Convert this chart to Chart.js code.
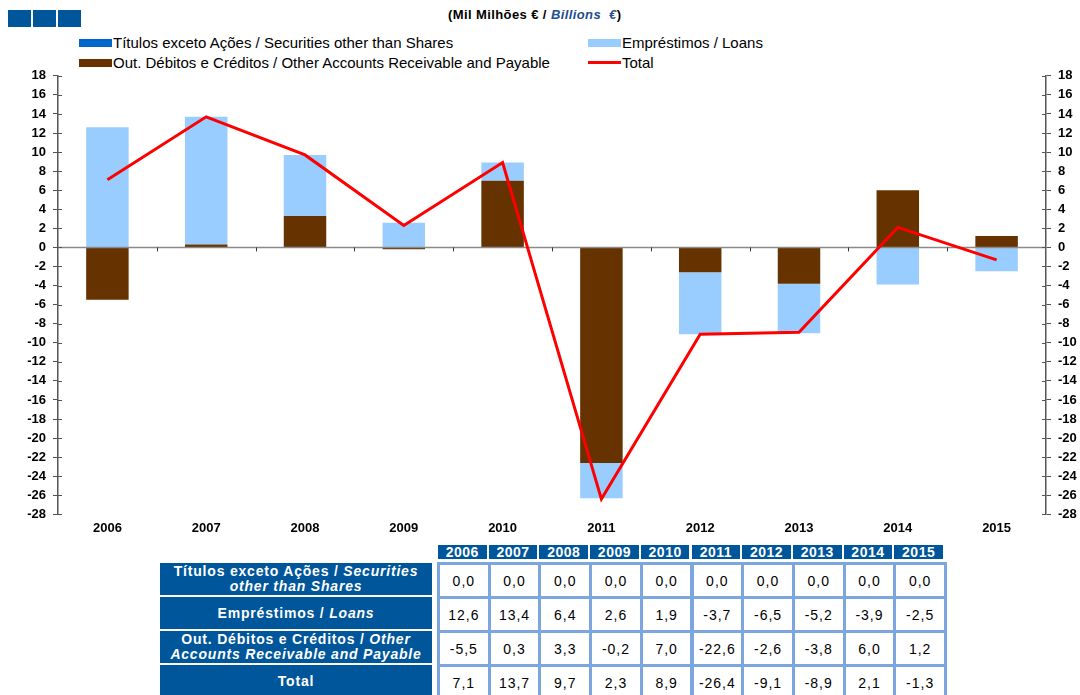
<!DOCTYPE html>
<html>
<head>
<meta charset="utf-8">
<script src="https://cdn.jsdelivr.net/npm/chart.js@4"></script>
<style>
  body { margin: 0; width: 1080px; height: 695px; background: #fff; font-family: "Liberation Sans", Arial, sans-serif; position: relative; overflow: hidden; }
  .quad { position: absolute; top: 10px; width: 23px; height: 17px; background: #00569a; }
  #titulo { position: absolute; top: 7px; left: 448px; font-size: 13px; font-weight: bold; color: #000; letter-spacing: 0.4px; }
  #titulo i { color: #1f4e8c; }
  .leg { position: absolute; font-size: 15px; color: #000; white-space: nowrap; }
  .leg span.sw { display: inline-block; width: 33px; height: 8px; margin-right: 1px; vertical-align: 1px; }
  .leg span.ln { display: inline-block; width: 33px; height: 3px; margin-right: 1px; vertical-align: 4px; background: #ff0000; }
  #wrap { position: absolute; left: 0; top: 61px; width: 1080px; height: 473px; }
  .cab { position: absolute; top: 545px; height: 14px; background: #00569a; color: #fff; font-weight: bold; font-size: 14px; line-height: 14px; text-align: center; letter-spacing: 0.5px; }
  .rot { position: absolute; left: 160px; width: 272px; background: #00569a; color: #fff; font-weight: bold; font-size: 14px; text-align: center; display: flex; align-items: center; justify-content: center; line-height: 15px; letter-spacing: 0.8px; }
  .cel { position: absolute; box-sizing: border-box; border: 3px solid #7ba6de; background: #fff; color: #000; font-size: 14px; display: flex; align-items: center; justify-content: center; letter-spacing: 1px; }
</style>
</head>
<body>
<div class="quad" style="left:8px"></div>
<div class="quad" style="left:33px"></div>
<div class="quad" style="left:58px"></div>
<div id="titulo">(Mil Milhões € / <i>Billions&nbsp; €</i>)</div>

<div class="leg" style="left:79px; top:34px"><span class="sw" style="background:#0066cc"></span>Títulos exceto Ações / Securities other than Shares</div>
<div class="leg" style="left:588px; top:34px"><span class="sw" style="background:#99ccff"></span>Empréstimos / Loans</div>
<div class="leg" style="left:79px; top:54px"><span class="sw" style="background:#663300"></span>Out. Débitos e Créditos / Other Accounts Receivable and Payable</div>
<div class="leg" style="left:588px; top:54px"><span class="ln"></span>Total</div>

<div id="wrap"><canvas id="grafico"></canvas></div>
<div id="tabela"></div>

<script>
var anos = ['2006', '2007', '2008', '2009', '2010', '2011', '2012', '2013', '2014', '2015']
var titulos = [0.0, 0.0, 0.0, 0.0, 0.0, 0.0, 0.0, 0.0, 0.0, 0.0]
var emprestimos = [12.6, 13.4, 6.4, 2.6, 1.9, -3.7, -6.5, -5.2, -3.9, -2.5]
var outrosDebitos = [-5.5, 0.3, 3.3, -0.2, 7.0, -22.6, -2.6, -3.8, 6.0, 1.2]
var total = [7.1, 13.7, 9.7, 2.3, 8.9, -26.4, -9.1, -8.9, 2.1, -1.3]

var rotulos = [
  'Títulos exceto Ações / <i>Securities<br>other than Shares</i>',
  'Empréstimos / <i>Loans</i>',
  'Out. Débitos e Créditos / <i>Other<br>Accounts Receivable and Payable</i>',
  'Total'
]

var corEixo = '#555'

// linha do zero, marcas do eixo x e marcas interiores dos eixos y
var eixosPlugin = {
  id: 'eixos',
  beforeDatasetDraw(chart, args) {
    if (args.index !== 3) return
    var ctx = chart.ctx
    var area = chart.chartArea
    var y0 = chart.scales.y.getPixelForValue(0)
    ctx.save()
    ctx.strokeStyle = '#8a8a8a'
    ctx.lineWidth = 1.5
    ctx.beginPath()
    ctx.moveTo(area.left, y0)
    ctx.lineTo(area.right, y0)
    ctx.stroke()
    // marcas entre categorias
    ctx.strokeStyle = '#333'
    ctx.lineWidth = 1
    var passo = (area.right - area.left) / anos.length
    for (var i = 1; i < anos.length; i++) {
      var x = Math.round(area.left + passo * i) + 0.5
      ctx.beginPath()
      ctx.moveTo(x, y0)
      ctx.lineTo(x, y0 + 4)
      ctx.stroke()
    }
    ctx.restore()
  },
  afterDraw(chart) {
    var ctx = chart.ctx
    var area = chart.chartArea
    ctx.save()
    ctx.strokeStyle = corEixo
    ctx.lineWidth = 1
    chart.scales.y.ticks.forEach(t => {
      var y = Math.round(chart.scales.y.getPixelForValue(t.value)) + 0.5
      ctx.beginPath()
      ctx.moveTo(area.left, y); ctx.lineTo(area.left + 4, y)
      ctx.moveTo(area.right, y); ctx.lineTo(area.right - 4, y)
      ctx.stroke()
    })
    ctx.restore()
  }
}

var fonteTicks = { family: '"Liberation Sans", Arial, sans-serif', size: 13, weight: 'bold' }

var eixoY = (lado, largura) => ({
  type: 'linear',
  position: lado,
  min: -28,
  max: 18,
  stacked: true,
  afterFit: s => { s.width = largura },
  ticks: { stepSize: 2, color: '#000', font: fonteTicks, padding: 7, autoSkip: false },
  grid: { drawOnChartArea: false, tickLength: 5, color: corEixo },
  border: { display: true, color: corEixo, width: 1.5 }
})

new Chart(document.getElementById('grafico'), {
  type: 'bar',
  data: {
    labels: anos,
    datasets: [
      { label: 'Títulos exceto Ações / Securities other than Shares', data: titulos, backgroundColor: '#0066cc', order: 1, yAxisID: 'y' },
      { label: 'Out. Débitos e Créditos / Other Accounts Receivable and Payable', data: outrosDebitos, backgroundColor: '#663300', order: 1, yAxisID: 'y' },
      { label: 'Empréstimos / Loans', data: emprestimos, backgroundColor: '#99ccff', order: 1, yAxisID: 'y' },
      { type: 'line', label: 'Total', data: total, borderColor: '#ff0000', borderWidth: 3, pointRadius: 0, tension: 0, order: 0, stack: 'total', yAxisID: 'y' }
    ]
  },
  options: {
    responsive: true,
    maintainAspectRatio: false,
    animation: false,
    layout: { padding: { top: 7, bottom: 0, left: 0, right: 0 } },
    datasets: { bar: { categoryPercentage: 1, barPercentage: 0.43 } },
    plugins: { legend: { display: false }, tooltip: { enabled: false } },
    scales: {
      x: {
        stacked: true,
        ticks: { color: '#000', font: fonteTicks, padding: -2 },
        grid: { display: false },
        border: { display: false }
      },
      y: eixoY('left', 58),
      y2: eixoY('right', 34)
    }
  },
  plugins: [eixosPlugin]
})

// tabela de dados por baixo do gráfico
var tabela = document.getElementById('tabela')
var x0 = 437, larg = 50.7, topo = 562, alt = 34
var linhas = [titulos, emprestimos, outrosDebitos, total]
var fmt = v => v.toFixed(1).replace('.', ',')
var html = ''
anos.forEach((a, i) => {
  html += '<div class="cab" style="left:' + (x0 + i * larg + 1) + 'px;width:' + (larg - 2) + 'px">' + a + '</div>'
})
linhas.forEach((serie, r) => {
  html += '<div class="rot" style="top:' + (topo + 1 + r * alt) + 'px;height:' + (alt - 2) + 'px"><span>' + rotulos[r] + '</span></div>'
  serie.forEach((v, i) => {
    html += '<div class="cel" style="left:' + (x0 + i * larg) + 'px;top:' + (topo + r * alt) + 'px;width:' + (larg + 3) + 'px;height:' + (alt + 3) + 'px">' + fmt(v) + '</div>'
  })
})
tabela.innerHTML = html
</script>
</body>
</html>
